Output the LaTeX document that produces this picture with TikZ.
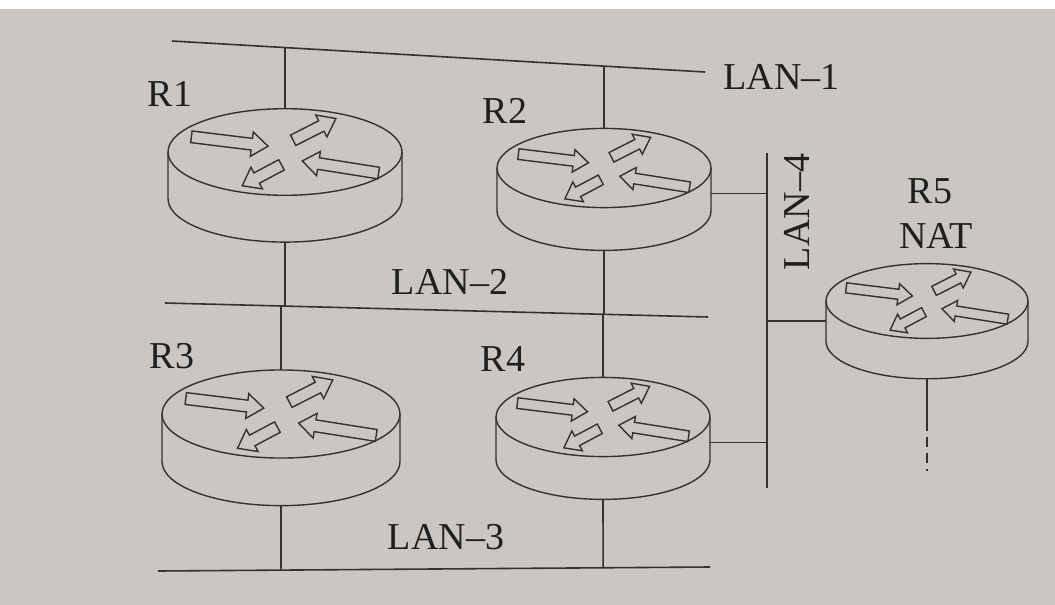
\documentclass[tikz,border=0pt]{standalone}
\usepackage{fontspec}
\setmainfont{Liberation Serif}
\usepackage{tikz}
\usetikzlibrary{calc}

\definecolor{paper}{RGB}{202,198,195}
\definecolor{ink}{RGB}{50,50,50}
\newcommand{\lanfont}{\fontsize{19}{22}\selectfont}
% block arrow: tail, angle, length
\newcommand{\blockarr}[3]{%
  \draw[shift={#1},rotate=-#2]
    (0,0.05) -- (#3-0.14,0.05) -- (#3-0.14,0.105) -- (#3,0)
    -- (#3-0.14,-0.105) -- (#3-0.14,-0.05) -- (0,-0.05) -- cycle;}

\begin{document}
\begin{tikzpicture}[x=0.5pt,y=-0.5pt,line width=0.7pt,draw=ink,
                    router/.pic={
                      \draw (0,0) ellipse[x radius=1,y radius=0.37];
                      \draw (-1,0) -- (-1,0.4)
                        arc[start angle=180,end angle=0,x radius=1,y radius=0.37] -- (1,0);
                      \blockarr{(-0.8,-0.13)}{7}{0.66}
                      \blockarr{(0.07,-0.1)}{-27}{0.41}
                      \blockarr{(-0.03,0.11)}{152}{0.38}
                      \blockarr{(0.8,0.18)}{189}{0.66}
                      \coordinate (-top) at (0,-0.37);
                      \coordinate (-bottom) at (0,0.77);
                      \coordinate (-east) at (1,0.24);
                      \coordinate (-west) at (-1,0.2);
                    }]
  \tikzstyle{lan}=[draw=ink,line width=0.8pt]
  \tikzstyle{lbl}=[text=black!88,font=\lanfont,inner sep=0pt]

  \useasboundingbox (0,0) rectangle (1055,605);
  \fill[paper] (0,0) rectangle (1055,605);
  \fill[white] (0,0) rectangle (1055,9);

  % routers
  \pic (R1) at (285,152) [scale=117] {router};
  \pic (R2) at (604,168) [scale=107] {router};
  \pic (R3) at (281,414) [scale=119] {router};
  \pic (R4) at (603,417) [scale=107] {router};
  \pic (R5) at (927,301) [scale=101] {router};

  % LAN ends
  \coordinate (L1w) at (172,41);
  \coordinate (L1e) at (705,72);
  \coordinate (L2w) at (165,303);
  \coordinate (L2e) at (708,317);
  \coordinate (L3w) at (158,571);
  \coordinate (L3e) at (710,567);
  \coordinate (L4n) at (767,153);
  \coordinate (L4s) at (767,488);

  \draw[lan] (L1w) -- (L1e);
  \draw[lan] (L2w) -- (L2e);
  \draw[lan] (L3w) -- (L3e);
  \draw[lan] (L4n) -- (L4s);

  % drops
  \draw[lan] (R1-top) -- (intersection of R1-top--R1-bottom and L1w--L1e);
  \draw[lan] (R1-bottom) -- (intersection of R1-top--R1-bottom and L2w--L2e);
  \draw[lan] (R2-top) -- (intersection of R2-top--R2-bottom and L1w--L1e);
  \draw[lan] (R2-bottom) -- (intersection of R2-top--R2-bottom and L2w--L2e);
  \draw[lan] (R3-top) -- (intersection of R3-top--R3-bottom and L2w--L2e);
  \draw[lan] (R3-bottom) -- (intersection of R3-top--R3-bottom and L3w--L3e);
  \draw[lan] (R4-top) -- (intersection of R4-top--R4-bottom and L2w--L2e);
  \draw[lan] (R4-bottom) -- (intersection of R4-top--R4-bottom and L3w--L3e);
  \draw[lan] (R2-east) -- (R2-east -| L4n);
  \draw[lan] (R4-east) -- (R4-east -| L4n);
  \draw[lan] (R5-west) -- (R5-west -| L4n);

  \coordinate (R5mid) at ($(R5-bottom)+(0,42)$);
  \coordinate (R5end) at ($(R5-bottom)+(0,92)$);
  \draw[lan] (R5-bottom) -- (R5mid);
  \draw[lan,dash pattern=on 5pt off 3pt] (R5mid) -- (R5end);

  % labels
  \node[lbl] (t1) at (170,94) {R1};
  \node[lbl] (t2) at (505,111) {R2};
  \node[lbl] (t3) at (172,356) {R3};
  \node[lbl] (t4) at (503,359) {R4};
  \node[lbl] (t5) at (930,191) {R5};
  \node[lbl] (tn) at (936,236) {NAT};
  \node[lbl,anchor=west] (n1) at (723,77) {LAN--1};
  \node[lbl] (n2) at (450,282) {LAN--2};
  \node[lbl] (n3) at (446,537) {LAN--3};
  \node[lbl,rotate=90] (n4) at (797,212) {LAN--4};
\end{tikzpicture}
\end{document}
